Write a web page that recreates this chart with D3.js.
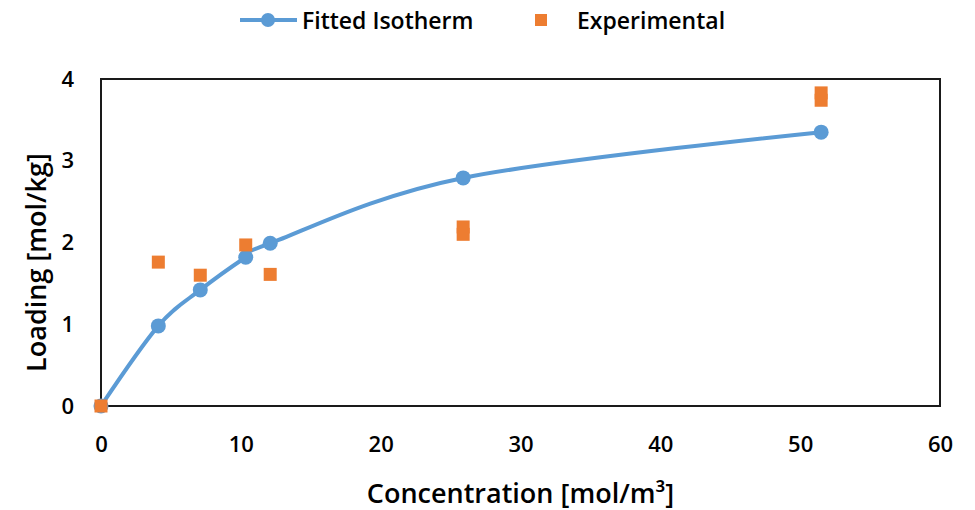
<!DOCTYPE html>
<html>
<head>
<meta charset="utf-8">
<script src="https://cdn.jsdelivr.net/npm/d3@7"></script>
<style>
  body { margin: 0; background: #fff; }
  text { font-family: "Open Sans", sans-serif; font-weight: 600; fill: #000; }
</style>
</head>
<body>
<svg id="chart"></svg>
<script>
const width = 975
const height = 510
const margin = { top: 79, right: 35, bottom: 104, left: 101 }

// fitted isotherm
const fitX = [0, 4.1, 7.1, 10.35, 12.1, 25.9, 51.5]
const fitY = [0, 0.98, 1.42, 1.82, 1.99, 2.79, 3.35]

// experimental points
const expX = [0, 4.1, 7.1, 10.35, 12.1, 25.9, 25.9, 51.5, 51.5]
const expY = [0, 1.76, 1.60, 1.97, 1.61, 2.10, 2.19, 3.74, 3.83]

const xTicks = [0, 10, 20, 30, 40, 50, 60]
const yTicks = [0, 1, 2, 3, 4]

const blue = '#5b9bd5'
const orange = '#ed7d31'

const svg = d3.select('#chart')
  .attr('width', width)
  .attr('height', height)

const x = d3.scaleLinear()
  .domain([0, 60])
  .range([margin.left, width - margin.right])

const y = d3.scaleLinear()
  .domain([0, 4])
  .range([height - margin.bottom, margin.top])

// plot frame
svg.append('rect')
  .attr('x', x(0))
  .attr('y', y(4))
  .attr('width', x(60) - x(0))
  .attr('height', y(0) - y(4))
  .attr('fill', 'none')
  .attr('stroke', '#1a1a1a')
  .attr('stroke-width', 2)

// axes (labels only)
const xAxis = svg.append('g')
  .attr('transform', `translate(0,${y(0)})`)
  .call(d3.axisBottom(x).tickValues(xTicks).tickFormat(d3.format('d')).tickSize(0).tickPadding(30))
xAxis.select('.domain').remove()
xAxis.selectAll('text').style('font-size', '22px')

const yAxis = svg.append('g')
  .attr('transform', `translate(${x(0)},0)`)
  .call(d3.axisLeft(y).tickValues(yTicks).tickFormat(d3.format('d')).tickSize(0).tickPadding(27))
yAxis.select('.domain').remove()
yAxis.selectAll('text').style('font-size', '22px')

// axis titles
svg.append('text')
  .attr('x', (x(0) + x(60)) / 2)
  .attr('y', 503)
  .attr('text-anchor', 'middle')
  .style('font-size', '27px')
  .text('Concentration [mol/m³]')

svg.append('text')
  .attr('transform', `translate(46,${(y(0) + y(4)) / 2 + 20}) rotate(-90)`)
  .attr('text-anchor', 'middle')
  .style('font-size', '27px')
  .text('Loading [mol/kg]')

// fitted line
const fitData = fitX.map((d, i) => ({ x: d, y: fitY[i] }))
const line = d3.line()
  .x(d => x(d.x))
  .y(d => y(d.y))
  .curve(d3.curveCardinal.tension(0))

svg.append('path')
  .datum(fitData)
  .attr('d', line)
  .attr('fill', 'none')
  .attr('stroke', blue)
  .attr('stroke-width', 4)

svg.append('g')
  .selectAll('circle')
  .data(fitData)
  .join('circle')
  .attr('cx', d => x(d.x))
  .attr('cy', d => y(d.y))
  .attr('r', 7.5)
  .attr('fill', blue)

// experimental squares
const expData = expX.map((d, i) => ({ x: d, y: expY[i] }))
const sq = 13
svg.append('g')
  .selectAll('rect')
  .data(expData)
  .join('rect')
  .attr('x', d => x(d.x) - sq / 2)
  .attr('y', d => y(d.y) - sq / 2)
  .attr('width', sq)
  .attr('height', sq)
  .attr('fill', orange)

// legend
const legend = svg.append('g')
legend.append('line')
  .attr('x1', 240).attr('x2', 297)
  .attr('y1', 20).attr('y2', 20)
  .attr('stroke', blue)
  .attr('stroke-width', 4)
legend.append('circle')
  .attr('cx', 268).attr('cy', 20).attr('r', 7)
  .attr('fill', blue)
legend.append('text')
  .attr('x', 302).attr('y', 29)
  .style('font-size', '23px')
  .text('Fitted Isotherm')
legend.append('rect')
  .attr('x', 535).attr('y', 14)
  .attr('width', 12).attr('height', 12)
  .attr('fill', orange)
legend.append('text')
  .attr('x', 577).attr('y', 29)
  .style('font-size', '23px')
  .text('Experimental')
</script>
</body>
</html>
